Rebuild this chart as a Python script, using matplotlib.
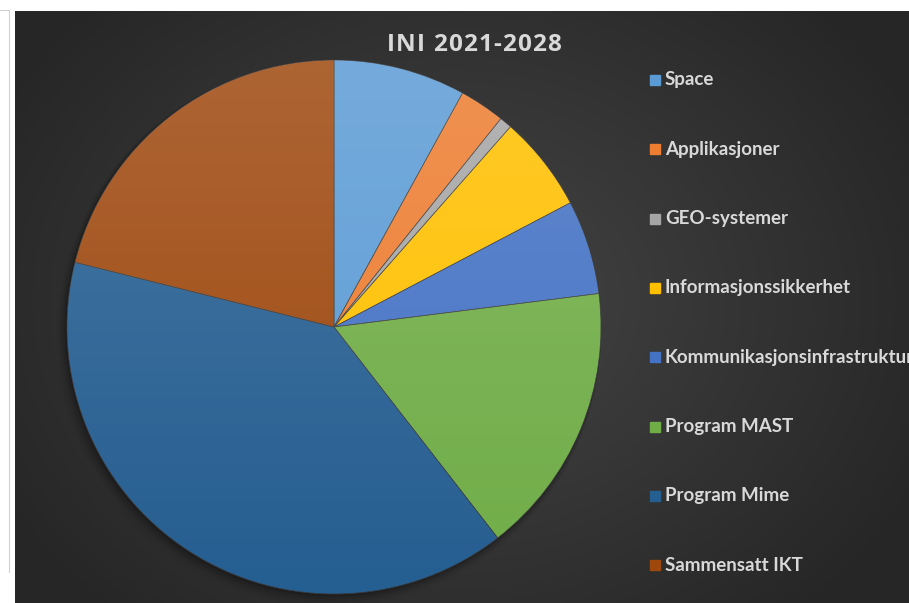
import numpy as np
import matplotlib.pyplot as plt
from matplotlib.patches import Circle, Rectangle

# INI 2021-2028 share per area (percent)
labels = ['Space', 'Applikasjoner', 'GEO-systemer', 'Informasjonssikkerhet',
          'Kommunikasjonsinfrastruktur', 'Program MAST', 'Program Mime', 'Sammensatt IKT']
values = [8.0, 2.75, 0.75, 5.8, 5.7, 16.5, 39.4, 21.1]
colors = ['#5B9BD5', '#ED7D31', '#A5A5A5', '#FFC000',
          '#4472C4', '#70AD47', '#255E91', '#9E480E']
title = 'INI 2021-2028'

W, H = 909, 603
fig = plt.figure(figsize=(W / 100, H / 100), dpi=100)
fig.patch.set_facecolor('white')

# dark panel with radial gradient
bg = fig.add_axes([15 / W, 0, 1 - 15 / W, 1 - 11 / H])
bg.set_axis_off()
yy, xx = np.mgrid[0:592, 0:894]
d = np.hypot((xx - 440) / 520, (yy - 290) / 420)
g = np.clip(0.27 - 0.12 * d, 0.15, 0.27)
bg.imshow(np.dstack([g, g, g]), aspect='auto', extent=(0, 1, 0, 1))
bg.set_xlim(0, 1)
bg.set_ylim(0, 1)

# thin border of neighbouring box on the left
fig.add_artist(plt.Line2D([8.5 / W, 8.5 / W], [1 - 572 / H, 1 - 10 / H],
                          color='#d0d0d0', lw=0.8))
fig.add_artist(plt.Line2D([0, 8.5 / W], [1 - 10 / H, 1 - 10 / H],
                          color='#d0d0d0', lw=0.8))

# pie
cx, cy, r = 334, 327, 267
pad = 12
ax = fig.add_axes([(cx - r - pad) / W, (H - cy - r - pad) / H,
                   2 * (r + pad) / W, 2 * (r + pad) / H])
ax.set_axis_off()

# soft shadow
for i, a in enumerate(np.linspace(0.10, 0.02, 5)):
    ax.add_patch(Circle((-0.004 * (i + 1), -0.006 * (i + 1)), 1 + 0.004 * (i + 1),
                        color='black', alpha=a, lw=0, zorder=0))

wedges, _ = ax.pie(values, colors=colors, startangle=90, counterclock=False,
                   radius=1, wedgeprops=dict(edgecolor='#3a3a3a', linewidth=0.5))
for w in wedges:
    w.set_zorder(1)

# light-to-dark vertical sheen over the pie
grad = np.linspace(1, 0, 256)[:, None]
sheen = np.zeros((256, 1, 4))
sheen[..., :3] = 1
sheen[..., 3] = 0.16 * grad
im = ax.imshow(sheen, extent=(-1, 1, -1, 1), aspect='auto', zorder=2)
im.set_clip_path(Circle((0, 0), 1, transform=ax.transData))

lim = (r + pad) / r
ax.set_xlim(-lim, lim)
ax.set_ylim(-lim, lim)

# title with letter spacing, drawn glyph by glyph
fig.canvas.draw()
rend = fig.canvas.get_renderer()
tkw = dict(color='#d9d9d9', fontsize=17.5, fontweight='bold', family='Open Sans',
           va='center', ha='left')
track = 1.2
widths = []
for ch in title:
    t = fig.text(0, 0, ch if ch != ' ' else 'I', **tkw)
    widths.append(t.get_window_extent(rend).width * (0.75 if ch == ' ' else 1))
    t.remove()
total = sum(widths) + track * (len(title) - 1)
x = 474 - total / 2
for ch, w in zip(title, widths):
    if ch != ' ':
        fig.text(x / W, 1 - 45 / H, ch, **tkw)
    x += w + track

# legend
top, step = 80, 69.3
for i, (lab, c) in enumerate(zip(labels, colors)):
    y = 1 - (top + i * step) / H
    fig.add_artist(Rectangle((650 / W, y - 5 / H), 10 / W, 10 / H,
                             transform=fig.transFigure, color=c))
    fig.text(665 / W, y, lab, ha='left', va='center', color='#d9d9d9',
             fontsize=13.5, fontweight='bold', family='Lato')

fig.savefig('out.png', dpi=100, facecolor=fig.get_facecolor())
